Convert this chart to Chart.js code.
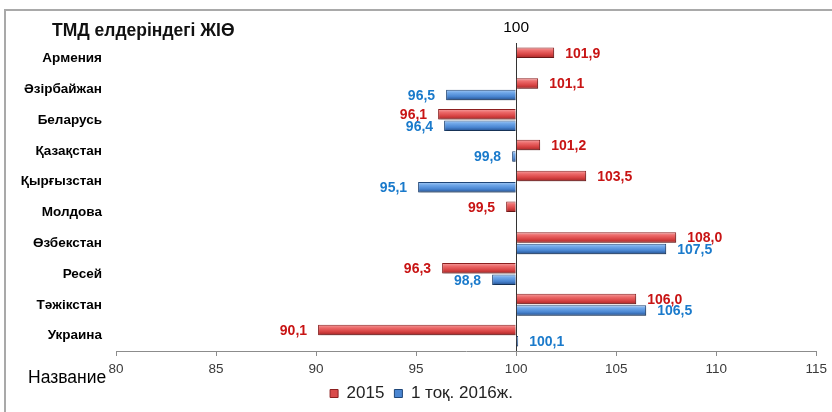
<!DOCTYPE html>
<html><head><meta charset="utf-8">
<script src="https://cdn.jsdelivr.net/npm/chart.js@4.4.0/dist/chart.umd.min.js"></script>
<style>
html,body{margin:0;padding:0;background:#fff;overflow:hidden}
#wrap{position:absolute;left:0;top:0;width:832px;height:412px}
#frame{position:absolute;left:4px;top:9px;width:840px;height:420px;border-left:2px solid #a9a9a9;border-top:2px solid #a9a9a9}
canvas{position:absolute;left:0;top:0}
</style></head><body>
<div id="wrap"><div id="frame"></div><canvas id="c" width="832" height="412"></canvas></div>
<script>
const chartTitle = 'ТМД елдеріндегі ЖІӨ';
const axisTitle = 'Название';
const categories = ['Армения','Әзірбайжан','Беларусь','Қазақстан','Қырғызстан','Молдова','Өзбекстан','Ресей','Тәжікстан','Украина'];
const seriesNames = ['2015','1 тоқ. 2016ж.'];
const values2015 = [101.9,101.1,96.1,101.2,103.5,99.5,108.0,96.3,106.0,90.1];
const values2016 = [null,96.5,96.4,99.8,95.1,null,107.5,98.8,106.5,100.1];
const xTickValues = [80,85,90,95,100,105,110,115];
const baseValue = 100;

Chart.defaults.font.family = "'Liberation Sans', Arial, sans-serif";

const palettes = [
  {solid:'#d94b4b', stops:['#f5a3a3','#ec6a6a','#d84444','#a52626'], border:'#8c1f1f', label:'#c81414'},
  {solid:'#4a86d2', stops:['#a9cdf5','#6ea6e8','#4a86d2','#24508f'], border:'#1f4678', label:'#1a7acb'}
];

const barStyle = {
  id:'barStyle',
  beforeDatasetsDraw(chart){
    const ctx = chart.ctx;
    chart.data.datasets.forEach((ds, di) => {
      const meta = chart.getDatasetMeta(di);
      const p = palettes[di];
      meta.data.forEach((el, i) => {
        if (ds.data[i] === null || el.skip) return;
        const top = el.y - el.height/2, bot = el.y + el.height/2;
        const g = ctx.createLinearGradient(0, top, 0, bot);
        g.addColorStop(0, p.stops[0]);
        g.addColorStop(0.3, p.stops[1]);
        g.addColorStop(0.65, p.stops[2]);
        g.addColorStop(1, p.stops[3]);
        el.options = Object.assign({}, el.options, {backgroundColor: g});
      });
    });
    ctx.save();
    ctx.shadowColor = 'rgba(0,0,0,0.3)';
    ctx.shadowOffsetX = 1;
    ctx.shadowOffsetY = 2;
    ctx.shadowBlur = 2;
  },
  afterDatasetsDraw(chart){
    const ctx = chart.ctx;
    ctx.restore();
    ctx.save();
    ctx.font = "bold 14px 'Liberation Sans', Arial, sans-serif";
    ctx.textBaseline = 'middle';
    chart.data.datasets.forEach((ds, di) => {
      const meta = chart.getDatasetMeta(di);
      ctx.fillStyle = palettes[di].label;
      meta.data.forEach((el, i) => {
        const v = ds.data[i];
        if (v === null) return;
        const txt = v.toFixed(1).replace('.', ',');
        if (v >= baseValue) { ctx.textAlign = 'left'; ctx.fillText(txt, el.x + 11, el.y + 1); }
        else { ctx.textAlign = 'right'; ctx.fillText(txt, el.x - 11, el.y + 1); }
      });
    });
    ctx.restore();
  },
  afterDraw(chart){
    const ctx = chart.ctx;
    ctx.save();
    ctx.fillStyle = '#111';
    ctx.font = "bold 17.5px 'Liberation Sans', Arial, sans-serif";
    ctx.textAlign = 'left';
    ctx.textBaseline = 'middle';
    ctx.fillText(chartTitle, 52, 31);
    ctx.font = "17.5px 'Liberation Sans', Arial, sans-serif";
    ctx.textBaseline = 'alphabetic';
    ctx.fillStyle = '#000';
    ctx.fillText(axisTitle, 28, 383);
    ctx.restore();
  },
  afterLayout(chart){
    if (chart.legend) { chart.legend.left += 13; chart.legend.right += 13; }
  }
};

new Chart(document.getElementById('c'), {
  type:'bar',
  data:{
    labels: categories,
    datasets:[
      {label: seriesNames[0], data: values2015, base: baseValue, backgroundColor: () => palettes[0].solid, borderColor: palettes[0].border, borderWidth: 1, categoryPercentage: 0.74, barPercentage: 0.92},
      {label: seriesNames[1], data: values2016, base: baseValue, backgroundColor: () => palettes[1].solid, borderColor: palettes[1].border, borderWidth: 1, categoryPercentage: 0.74, barPercentage: 0.92}
    ]
  },
  options:{
    indexAxis:'y',
    responsive:false,
    animation:false,
    devicePixelRatio:1,
    layout:{padding:{left:0, right:15, top:0, bottom:0}},
    plugins:{
      legend:{position:'bottom', labels:{boxWidth:8, boxHeight:8, font:{size:17}, color:'#222', padding:10}},
      tooltip:{enabled:false},
      title:{display:false}
    },
    scales:{
      x:{type:'linear', position:'bottom', min:80, max:115,
        afterBuildTicks: s => { s.ticks = xTickValues.map(v => ({value:v})); },
        grid:{color: c => (c.tick && c.tick.value === baseValue) ? '#333' : 'rgba(0,0,0,0)', tickColor:'#8c8c8c', tickLength:5, lineWidth:1},
        border:{color:'#8c8c8c', width:1},
        ticks:{font:{size:13.5}, color:'#3a3a3a', padding:5, maxRotation:0},
        afterFit: s => { s.height = 24; }
      },
      x2:{type:'linear', position:'top', min:80, max:115,
        afterBuildTicks: s => { s.ticks = [{value: baseValue}]; },
        grid:{display:false, drawTicks:false},
        border:{display:false},
        ticks:{font:{size:15.5}, color:'#000', padding:5.5, maxRotation:0},
        afterFit: s => { s.height = 43; }
      },
      y:{type:'category',
        grid:{display:false, drawTicks:false},
        border:{display:false},
        ticks:{font:{size:13.5, weight:'bold'}, color:'#000', padding:14},
        afterFit: s => { s.width = 116; }
      }
    }
  },
  plugins:[barStyle]
});
</script>
</body></html>
